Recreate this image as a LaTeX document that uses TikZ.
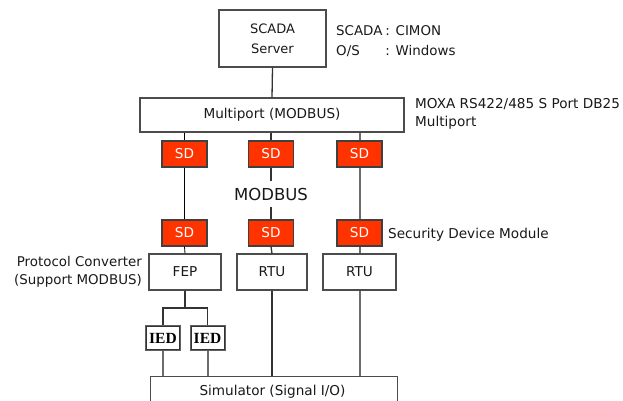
\documentclass[tikz,border=0pt]{standalone}
\usepackage{fontspec}
\setmainfont{DejaVu Sans}
\newfontfamily\iedfont{Liberation Serif}
\begin{document}
\begin{tikzpicture}[x=1pt,y=-1pt,
  txt/.style={font=\fontsize{13.6}{18}\selectfont, text=black!90},
  box/.style={txt, draw=black!70, line width=1.1pt, fill=white, inner sep=0pt, rectangle},
  sdbox/.style={box, fill={rgb,255:red,255;green,51;blue,0}, draw=black!75, line width=1.3pt, text=white,
                minimum width=45pt, minimum height=26pt},
  iedbox/.style={draw=gray!75!black, line width=2pt, fill=white,
                 inner sep=0pt, font=\iedfont\bfseries\fontsize{15.5}{17}\selectfont,
                 minimum width=34pt, minimum height=24pt},
  iedrim/.style={draw=black!80, line width=0.6pt},
  darkline/.style={draw=black!80, line width=1.3pt},
  thinline/.style={draw=black, line width=0.8pt},
  greyline/.style={draw=gray!85!black, line width=2pt},
  label/.style={txt, inner sep=0pt, align=left}
]
\useasboundingbox (0,0) rectangle (623,400);
\clip (0,0) rectangle (623,400);

% upper level: server and serial multiport
\node[box, minimum width=107pt, minimum height=57pt, align=center,
      font=\fontsize{13}{20}\selectfont] (srv) at (272.5,38.5) {SCADA\\Server};
\node[box, minimum width=264pt, minimum height=34pt] (mp) at (272,115) {Multiport (MODBUS)};

% security devices, upper row
\node[sdbox] (sda) at (184.5,154) {SD};
\node[sdbox] (sdb) at (271,154) {SD};
\node[sdbox] (sdc) at (359.5,154) {SD};

% security devices, lower row
\node[sdbox] (sdd) at (184.5,233) {SD};
\node[sdbox] (sde) at (271,233) {SD};
\node[sdbox] (sdf) at (359.5,233) {SD};

% field level
\node[box, minimum width=72pt, minimum height=36pt] (fep) at (185,272) {FEP};
\node[box, minimum width=70pt, minimum height=36pt] (rtua) at (272,272) {RTU};
\node[box, minimum width=73pt, minimum height=36pt] (rtub) at (359.5,272) {RTU};

\node[iedbox] (ieda) at (163,338) {IED};
\node[iedbox] (iedb) at (207.5,338) {IED};
\draw[iedrim] ([shift={(1.6,1.6)}]ieda.north west) rectangle ([shift={(-1.6,-1.6)}]ieda.south east);
\draw[iedrim] ([shift={(1.6,1.6)}]iedb.north west) rectangle ([shift={(-1.6,-1.6)}]iedb.south east);

\node[box, minimum width=247pt, minimum height=34pt, anchor=north west] (sim) at (149.5,376) {};
\node[txt] (simtxt) at (272.5,392) {Simulator (Signal I/O)};

\coordinate (fork) at (185,308);

% connectors
\draw[darkline] (srv.south) -- (mp.north);
\draw[thinline] (sda.north |- mp.south) -- (sda.north);
\draw[darkline] (sdb.north |- mp.south) -- (sdb.north);
\draw[greyline] (sdc.north |- mp.south) -- (sdc.north);

\draw[darkline] (sdb.south) -- (sde.north);
\draw[greyline] (sdc.south) -- (sdf.north);

\draw[thinline] (sdd.south) -- (fep.north);
\draw[darkline] (sde.south) -- (rtua.north);
\draw[greyline] (sdf.south) -- (rtub.north);

\draw[darkline] (fep.south) -- (fork);
\draw[darkline] (ieda.north) |- (fork) -| (iedb.north);
\draw[greyline] (ieda.south) -- (ieda.south |- sim.north);
\draw[greyline] (iedb.south) -- (iedb.south |- sim.north);
\draw[darkline, line width=1.5pt] (rtua.south) -- (rtua.south |- sim.north);
\draw[greyline] (rtub.south) -- (rtub.south |- sim.north);

% bus label, masking the middle line
\node[txt, fill=white, font=\fontsize{16.5}{18}\selectfont, inner xsep=2pt, minimum height=26pt] (bus) at (271,194) {MODBUS};
\draw[thinline] (sda.south) -- (sdd.north);

% side annotations
\node[label, anchor=west, font=\fontsize{13.4}{20}\selectfont] (swinfo) at (336,41)
  {\begin{tabular}{@{}l@{\hspace{3pt}}l@{}}SCADA & : CIMON\\ O/S & : Windows\end{tabular}};
\node[label, anchor=west, font=\fontsize{13.6}{18}\selectfont] (mpinfo) at (415,114)
  {MOXA RS422/485 S Port DB25\\Multiport};
\node[label, anchor=west] (sdinfo) at (388,235) {Security Device Module};
\node[label, anchor=east, align=right, font=\fontsize{13.4}{18}\selectfont] (pcinfo) at (142,271.5)
  {Protocol Converter\\(Support MODBUS)};
\end{tikzpicture}
\end{document}
